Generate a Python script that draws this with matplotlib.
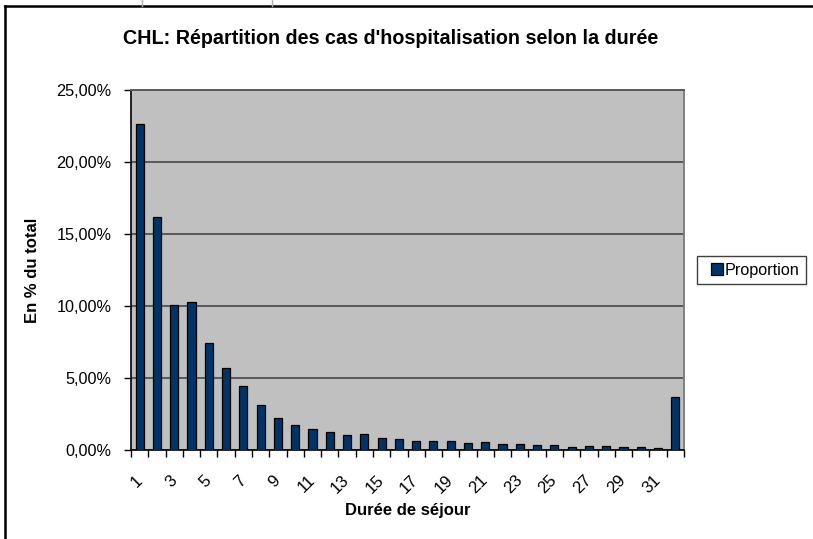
import matplotlib.pyplot as plt
from matplotlib.lines import Line2D
from matplotlib.ticker import FuncFormatter

plt.rcParams['font.family'] = ['Liberation Sans', 'DejaVu Sans']

# durée de séjour (jours), la dernière classe = 32 et plus
durees = [str(d) for d in range(1, 33)]
proportion = [22.66, 16.18, 10.07, 10.28, 7.43, 5.70, 4.44, 3.10, 2.20, 1.76,
              1.46, 1.23, 1.06, 1.09, 0.81, 0.79, 0.65, 0.60, 0.60, 0.49,
              0.56, 0.39, 0.39, 0.35, 0.35, 0.21, 0.25, 0.30, 0.21, 0.21,
              0.16, 3.68]

W, H = 813, 539
fig = plt.figure(figsize=(W / 100, H / 100), dpi=100)

# cadre du graphique (style tableur)
fig.add_artist(Line2D([5 / W, 5 / W], [0, 1 - 6 / H], color='black', lw=1.8))
fig.add_artist(Line2D([5 / W, 1], [1 - 6 / H, 1 - 6 / H], color='black', lw=1.8))
for xc in [142, 272]:
    fig.add_artist(Line2D([xc / W, xc / W], [1 - 6 / H, 1], color='#b0b0b0', lw=1))

ax = fig.add_axes([131 / W, 1 - 450 / H, (684 - 131) / W, (450 - 90) / H])
ax.set_facecolor('#c0c0c0')

x = list(range(1, len(durees) + 1))
ax.bar(x, proportion, width=0.47, color='#003366', edgecolor='black',
       linewidth=0.9, zorder=3)

ax.set_xlim(0.5, len(durees) + 0.5)
ax.set_ylim(0, 25)
ax.set_yticks([0, 5, 10, 15, 20, 25])
ax.yaxis.set_major_formatter(FuncFormatter(lambda v, p: f'{v:.2f}%'.replace('.', ',')))
ax.yaxis.grid(True, color='#5a5a5a', lw=1.4, zorder=1)
ax.tick_params(axis='y', direction='out', length=5, width=1, labelsize=11.7, pad=9)

# graduations entre les barres, étiquettes une sur deux
ax.set_xticks([i + 0.5 for i in range(0, len(durees) + 1)])
ax.set_xticklabels([])
ax.tick_params(axis='x', which='major', direction='out', length=5, width=1)
ax.set_xticks(x[::2], minor=True)
ax.set_xticklabels(durees[::2], minor=True, rotation=45, ha='right',
                   va='center', rotation_mode='anchor', fontsize=12)
ax.tick_params(axis='x', which='minor', length=0, pad=20)

for s in ['left', 'bottom']:
    ax.spines[s].set_color('black')
    ax.spines[s].set_linewidth(1.2)
ax.spines['right'].set_color('#808080')
ax.spines['right'].set_linewidth(1.4)
ax.spines['top'].set_color('#5a5a5a')
ax.spines['top'].set_linewidth(1.4)

ax.set_xlabel('Durée de séjour', fontsize=12, fontweight='bold', labelpad=5)
ax.set_ylabel('En % du total', fontsize=12, fontweight='bold', labelpad=12)

fig.text(391 / W, 1 - 38 / H, "CHL: Répartition des cas d'hospitalisation selon la durée",
         ha='center', va='center', fontsize=14.2, fontweight='bold')

handle = Line2D([], [], ls='none', marker='s', markersize=8,
                markerfacecolor='#003366', markeredgecolor='black', markeredgewidth=0.9)
leg = fig.legend([handle], ['Proportion'], loc='center',
                 bbox_to_anchor=(751.5 / W, 1 - 270 / H),
                 fancybox=False, edgecolor='#404040', fontsize=11.7,
                 handlelength=1.75, handletextpad=-0.4,
                 borderpad=0.4, framealpha=1)
leg.get_frame().set_linewidth(1)

fig.savefig('out.png', dpi=100)
